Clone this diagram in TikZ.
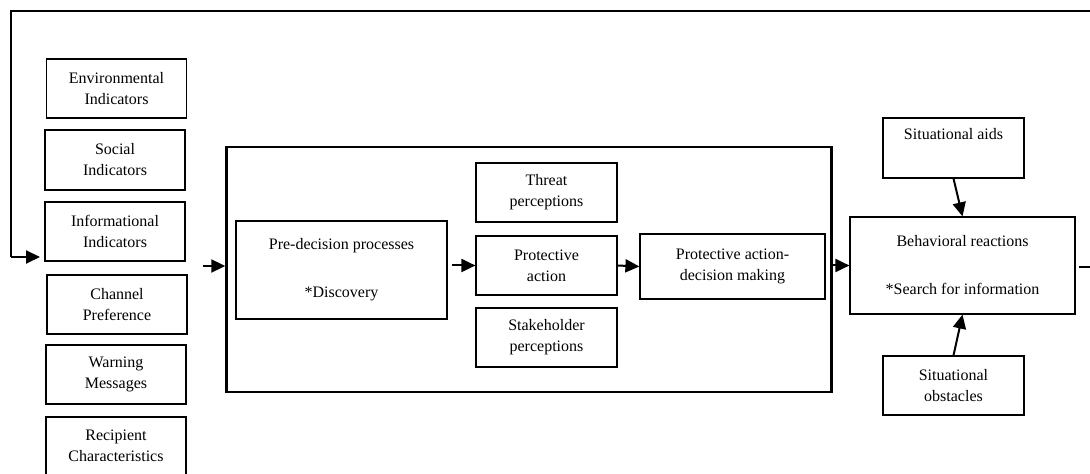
\documentclass[tikz,border=0pt]{standalone}
\usepackage{fontspec}
\setmainfont{Liberation Serif}
\usepackage{tikz}
\usetikzlibrary{arrows.meta}
\usetikzlibrary{shapes,arrows}
\tikzstyle{box} = [draw, line width=0.6pt, align=center, inner sep=2pt, font=\fontsize{8}{10.5}\selectfont]
\tikzstyle{flow} = [line width=1pt,-{Triangle[length=7pt,width=6.5pt]}]

\begin{document}
\begin{tikzpicture}[x=0.5pt, y=-0.5pt]
% 画布范围
\useasboundingbox (0,0) rectangle (1090,474);

% 中间大框
\node[draw, line width=1.2pt, minimum width=302.5pt, minimum height=122.5pt] (frame) at (529,269.5) {};

% 左侧输入框
\node[box, minimum width=70pt, minimum height=29.5pt] (env) at (116.5,88.5) {Environmental\\Indicators};
\node[box, minimum width=70pt, minimum height=30pt] (soc) at (115,160) {Social\\Indicators};
\node[box, minimum width=70pt, minimum height=29.5pt] (info) at (115,231.5) {Informational\\Indicators};
\node[box, minimum width=70pt, minimum height=29.5pt] (chan) at (117,304.5) {Channel\\Preference};
\node[box, minimum width=70pt, minimum height=29.5pt] (warn) at (116,374.5) {Warning\\Messages};
\node[box, minimum width=70pt, minimum height=29pt] (recip) at (116,446) {Recipient\\Characteristics};

% 大框内部
\node[box, minimum width=105.5pt, minimum height=49pt] (pre) at (341.5,270) {Pre-decision processes\\[13.5pt]*Discovery};
\node[box, minimum width=70.5pt, minimum height=29.5pt] (threat) at (546.5,192.5) {Threat\\perceptions};
\node[box, minimum width=70.5pt, minimum height=29.5pt] (prot) at (546.5,265.5) {Protective\\action};
\node[box, minimum width=70.5pt, minimum height=29.5pt] (stake) at (546.5,337.5) {Stakeholder\\perceptions};
\node[box, minimum width=92.5pt, minimum height=32.5pt] (pad) at (732.5,266.5) {Protective action-\\decision making};

% 右侧
\node[box, minimum width=112.5pt, minimum height=48.5pt] (beh) at (962.5,265.5) {Behavioral reactions\\[13.5pt]*Search for information};
\node[box, minimum width=70.5pt, minimum height=30pt] (aids) at (953.5,148) {Situational aids\\\strut};
\node[box, minimum width=70.5pt, minimum height=29.5pt] (obs) at (953.5,385.5) {Situational\\obstacles};

% 反馈回路
\coordinate (topR) at (1090,11);
\coordinate (topL) at (11,11);
\coordinate (loopIn) at (11,257);
\coordinate (colIn) at (40,257);
\coordinate (colOut) at (203,266);
\coordinate (outR) at (1090,267);
\draw[line width=0.6pt] (topR) -- (topL) -- (loopIn);
\draw[flow] (loopIn) -- (colIn);

% 箭头
\draw[flow] (colOut) -- (colOut -| frame.west);
\draw[flow, shorten <=2pt] (pre.east |- prot.west) -- (prot.west);
\draw[flow] (prot.east) -- (pad.west);
\draw[flow] (frame.east |- beh.west) -- (beh.west);
\draw[flow] (aids.south) -- (beh.north);
\draw[flow] (obs.north) -- (beh.south);
\draw[line width=0.6pt, shorten <=1.5pt] (beh.east |- outR) -- (outR);

\end{tikzpicture}
\end{document}
